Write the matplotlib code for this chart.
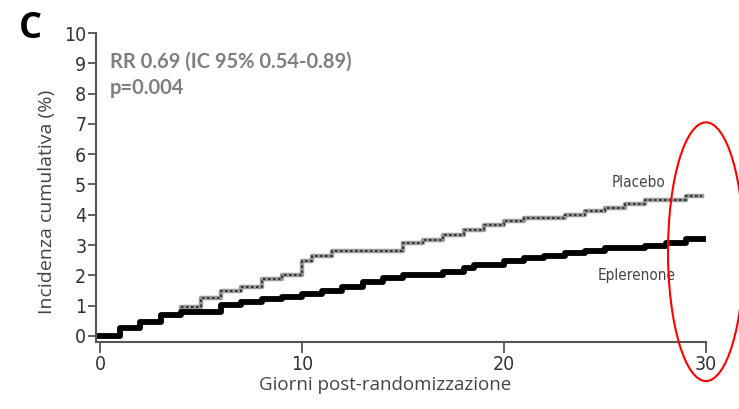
import matplotlib
matplotlib.use('Agg')
import matplotlib.pyplot as plt
from matplotlib.patches import Ellipse

# Dati
giorni_eplerenone = [0, 1, 2, 3, 4, 6, 7, 8, 9, 10, 11, 12, 13, 14, 15, 17, 18, 18.5,
                     20, 21, 22, 23, 24, 25, 27, 28, 29, 30]
inc_eplerenone = [0, 0.25, 0.47, 0.68, 0.8, 1.02, 1.13, 1.22, 1.3, 1.38, 1.47, 1.62, 1.78,
                  1.92, 2.02, 2.1, 2.25, 2.35, 2.46, 2.57, 2.65, 2.75, 2.82, 2.9, 2.96,
                  3.07, 3.2, 3.2]

giorni_placebo = [0, 1, 2, 3, 4, 5, 6, 7, 8, 9, 10, 10.5, 11.5, 15, 16, 17, 18, 19, 20,
                  21, 23, 24, 25, 26, 27, 29, 29.8]
inc_placebo = [0, 0.25, 0.47, 0.68, 0.95, 1.25, 1.5, 1.62, 1.88, 2.0, 2.46, 2.63, 2.79,
               3.07, 3.18, 3.34, 3.5, 3.65, 3.78, 3.9, 4.0, 4.12, 4.23, 4.34, 4.5, 4.61,
               4.61]

xticks = [0, 10, 20, 30]
yticks = list(range(0, 11))

testo = ['Open Sans', 'DejaVu Sans']

fig = plt.figure(figsize=(7.39, 4.09), dpi=100)
ax = fig.add_axes([0.1299, 0.1638, 0.8254, 0.7555])

# Placebo: linea grigia tratteggiata
ax.step(giorni_placebo, inc_placebo, where='post', color='#9a9a9a', lw=3.2, zorder=2)
ax.step(giorni_placebo, inc_placebo, where='post', color='#222222', lw=1.2,
        linestyle=(0, (1.5, 1.5)), zorder=3)
# Eplerenone: linea nera spessa
ax.step(giorni_eplerenone, inc_eplerenone, where='post', color='black', lw=4.2, zorder=4)

ax.set_xlim(-0.2, 30)
ax.set_ylim(-0.2, 10)
ax.set_xticks(xticks)
ax.set_yticks(yticks)
for sp in ['top', 'right']:
    ax.spines[sp].set_visible(False)
for sp in ['left', 'bottom']:
    ax.spines[sp].set_color('#555555')
    ax.spines[sp].set_linewidth(1.5)
ax.tick_params(axis='y', length=6, width=1.3, color='#555555', pad=1)
ax.tick_params(axis='x', length=8, width=1.3, color='#555555', pad=1.5)
for lab in ax.get_xticklabels() + ax.get_yticklabels():
    lab.set_family('DejaVu Sans')
    lab.set_fontstretch('condensed')
    lab.set_fontsize(14)
    lab.set_color('#333333')

ax.set_ylabel('Incidenza cumulativa (%)', family=testo, fontsize=14, color='#444444',
              va='center')
ax.yaxis.set_label_coords(-0.080, 0.453)
ax.set_xlabel('Giorni post-randomizzazione', family=testo, fontsize=13.5, color='#444444',
              va='center')
ax.xaxis.set_label_coords(0.474, -0.14)

ax.text(25.35, 5.07, 'Placebo', family='DejaVu Sans', stretch='condensed', fontsize=11,
        color='#444444', va='center')
ax.text(24.65, 1.99, 'Eplerenone', family='DejaVu Sans', stretch='condensed', fontsize=11,
        color='#444444', va='center')

ax.text(0.5, 9.07, 'RR 0.69 (IC 95% 0.54-0.89)', family=['Lato', 'DejaVu Sans'],
        fontsize=14.5, fontweight='bold', color='#7f7f7f', va='center')
ax.text(0.5, 8.18, 'p=0.004', family=['Lato', 'DejaVu Sans'], fontsize=14.5,
        fontweight='bold', color='#7f7f7f', va='center')

fig.text(0.041, 0.93, 'C', family=testo, fontsize=26, fontweight='bold', color='black',
         ha='center', va='center')

ell = Ellipse((30.0, 2.78), 3.76, 8.54, fill=False, edgecolor='red', lw=1.5,
              clip_on=False, zorder=5)
ax.add_patch(ell)

plt.savefig('out.png', dpi=100)
